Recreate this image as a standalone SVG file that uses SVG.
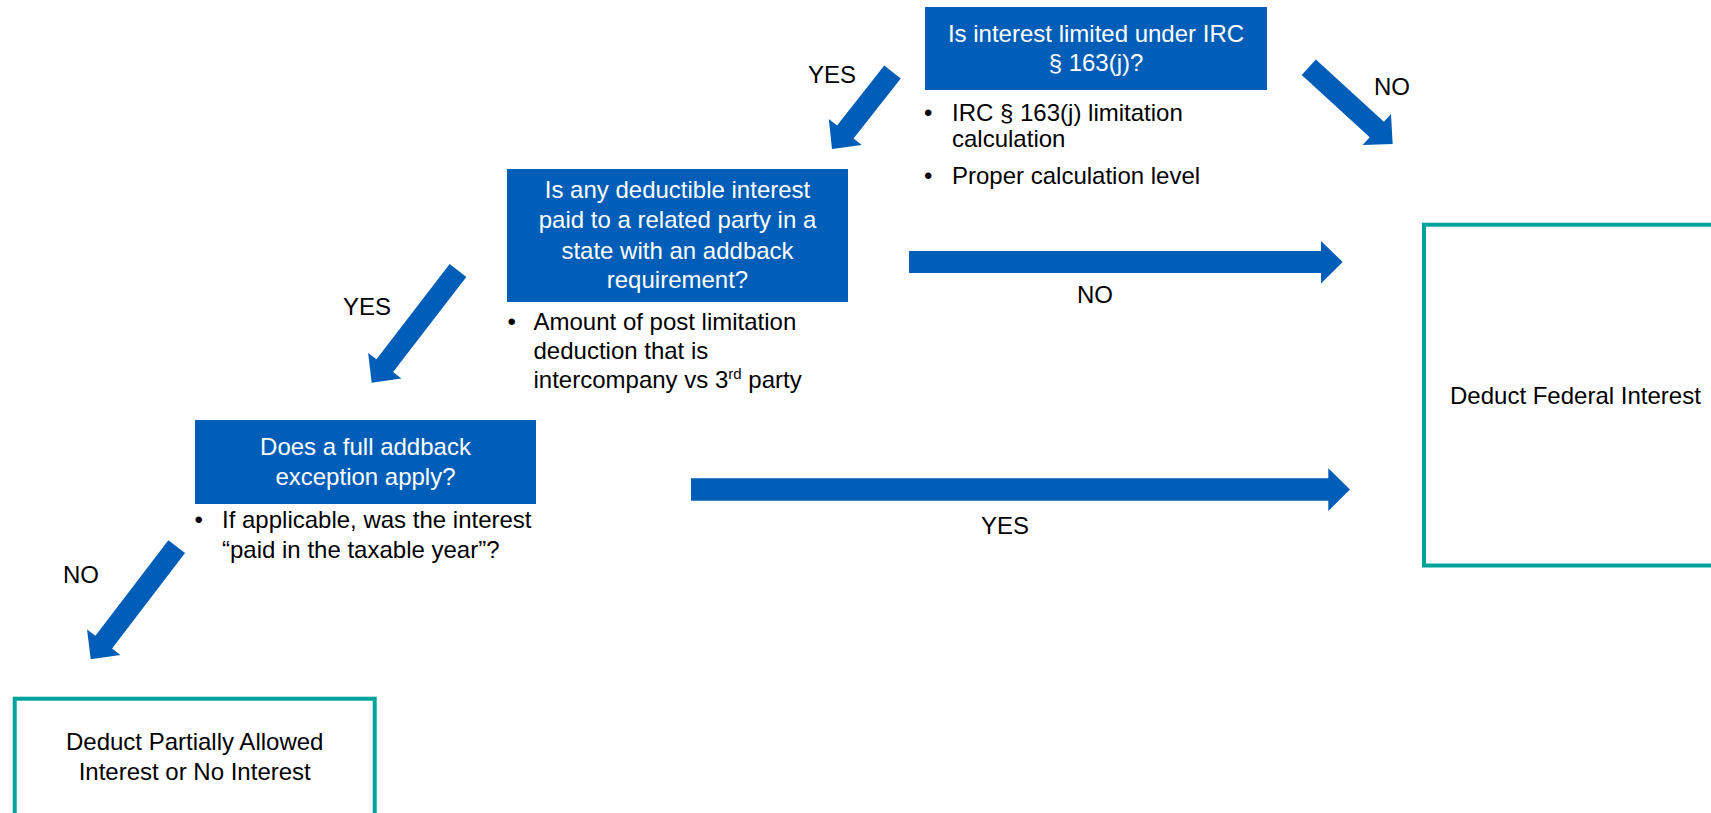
<svg xmlns="http://www.w3.org/2000/svg" width="1711" height="813" viewBox="0 0 1711 813">
  <defs>
    <style>
      text { font-family: "Liberation Sans", Arial, sans-serif; font-size: 24px; fill: #000; }
      .q { fill: #005EB8; }
      .qt { fill: #fff; text-anchor: middle; }
      .end { fill: #fff; stroke: #00A39C; stroke-width: 4; }
      .mid { text-anchor: middle; }
      .arrow { fill: #005EB8; }
    </style>
  </defs>
  <rect width="1711" height="813" fill="#fff"/>

  <g id="connectors">
    <!-- YES from q1 to q2 -->
    <path class="arrow" transform="translate(892.5,72) rotate(128.16)" d="M0,-10.5 L76.4,-10.5 L76.4,-21 L97.9,0 L76.4,21 L76.4,10.5 L0,10.5 Z"/>
    <!-- NO from q1 to federal -->
    <path class="arrow" transform="translate(1308.8,67.2) rotate(42.47)" d="M0,-10.5 L92.2,-10.5 L92.2,-21 L113.7,0 L92.2,21 L92.2,10.5 L0,10.5 Z"/>
    <!-- YES from q2 to q3 -->
    <path class="arrow" transform="translate(458,270.5) rotate(127.57)" d="M0,-10.5 L120.1,-10.5 L120.1,-21 L141.6,0 L120.1,21 L120.1,10.5 L0,10.5 Z"/>
    <!-- NO from q2 to federal -->
    <path class="arrow" d="M909,251 L1321,251 L1321,241 L1342.7,262 L1321,283.5 L1321,273 L909,273 Z"/>
    <!-- YES from q3 to federal -->
    <path class="arrow" d="M691,478.3 L1328.3,478.3 L1328.3,468.3 L1350,489.5 L1328.3,511 L1328.3,500.7 L691,500.7 Z"/>
    <!-- NO from q3 to partial -->
    <path class="arrow" transform="translate(176.7,546.7) rotate(127.37)" d="M0,-10.5 L120.2,-10.5 L120.2,-21 L141.7,0 L120.2,21 L120.2,10.5 L0,10.5 Z"/>

    <text x="808" y="83">YES</text>
    <text x="1374" y="95">NO</text>
    <text x="343" y="315">YES</text>
    <text x="1077" y="303">NO</text>
    <text x="981" y="534">YES</text>
    <text x="63" y="583">NO</text>
  </g>

  <g id="q1">
    <rect class="q" x="925" y="7" width="342" height="83"/>
    <text class="qt" x="1096" y="42">Is interest limited under IRC</text>
    <text class="qt" x="1096" y="70.5">§ 163(j)?</text>
    <text x="924" y="120.5">•</text>
    <text x="952" y="120.5">IRC § 163(j) limitation</text>
    <text x="952" y="147">calculation</text>
    <text x="924" y="183.5">•</text>
    <text x="952" y="183.5">Proper calculation level</text>
  </g>

  <g id="q2">
    <rect class="q" x="507" y="169" width="341" height="133"/>
    <text class="qt" x="677.5" y="198">Is any deductible interest</text>
    <text class="qt" x="677.5" y="228">paid to a related party in a</text>
    <text class="qt" x="677.5" y="258.5">state with an addback</text>
    <text class="qt" x="677.5" y="287.5">requirement?</text>
    <text x="507.5" y="330">•</text>
    <text x="533.5" y="330">Amount of post limitation</text>
    <text x="533.5" y="359">deduction that is</text>
    <text x="533.5" y="388">intercompany vs 3<tspan font-size="15" dy="-9">rd</tspan><tspan dy="9"> party</tspan></text>
  </g>

  <g id="q3">
    <rect class="q" x="195" y="420" width="341" height="84"/>
    <text class="qt" x="365.5" y="455">Does a full addback</text>
    <text class="qt" x="365.5" y="485">exception apply?</text>
    <text x="194.5" y="528">•</text>
    <text x="222" y="528">If applicable, was the interest</text>
    <text x="222" y="558">“paid in the taxable year”?</text>
  </g>

  <g id="federal">
    <rect class="end" x="1424" y="224.7" width="320" height="340.8"/>
    <text x="1450" y="403.5">Deduct Federal Interest</text>
  </g>

  <g id="partial">
    <rect class="end" x="14.7" y="698.7" width="360" height="140"/>
    <text class="mid" x="194.7" y="750">Deduct Partially Allowed</text>
    <text class="mid" x="194.7" y="779.5">Interest or No Interest</text>
  </g>
</svg>
